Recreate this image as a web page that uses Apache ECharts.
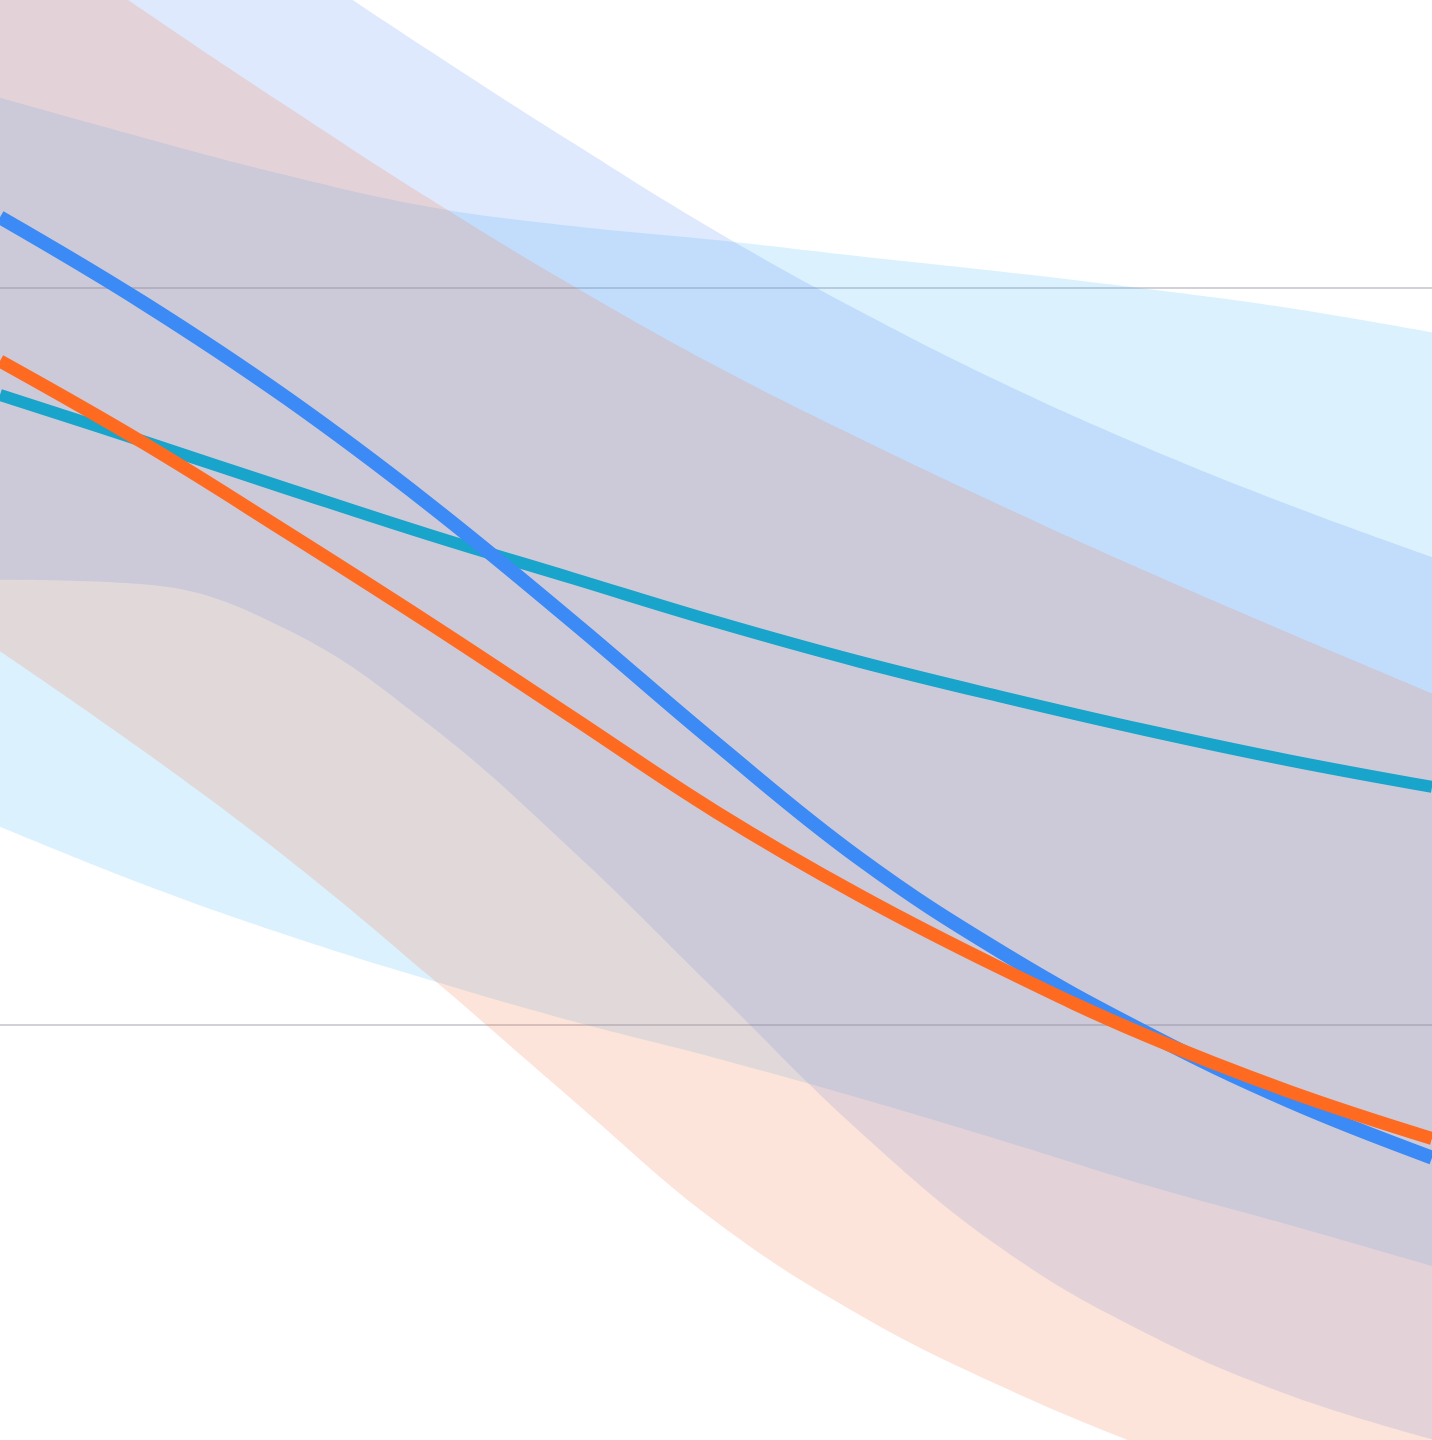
<!DOCTYPE html>
<html>
<head>
<meta charset="utf-8">
<title>Bands</title>
<script src="https://cdn.jsdelivr.net/npm/echarts@6/dist/echarts.min.js"></script>
<style>
  html, body { margin: 0; padding: 0; width: 1432px; height: 1440px; overflow: hidden; background: #fff; }
  #chart { position: absolute; left: 0; top: -449px; width: 1432px; height: 2211px; }
</style>
</head>
<body>
<div id="chart"></div>
<script>
// x positions (0..10 across the view)
const xs = ['0', '1', '2', '3', '4', '5', '6', '7', '8', '9', '10'];

// central lines
const blueLine   = [20.96, 19.80, 18.51, 17.06, 15.47, 13.82, 12.26, 10.98, 9.90, 8.97, 8.20];
const orangeLine = [19.01, 17.90, 16.69, 15.45, 14.17, 12.89, 11.76, 10.76, 9.86, 9.10, 8.46];
const tealLine   = [18.55, 17.92, 17.28, 16.65, 16.06, 15.47, 14.93, 14.45, 14.00, 13.59, 13.23];

// band edges
const blueUpper   = [27.23, 25.88, 24.52, 23.22, 21.97, 20.77, 19.69, 18.71, 17.84, 17.06, 16.35];
const blueLower   = [16.04, 15.98, 15.37, 14.07, 12.36, 10.46, 8.56, 6.96, 5.82, 4.98, 4.38];
const orangeUpper = [25.13, 23.77, 22.47, 21.21, 20.03, 18.94, 17.96, 17.04, 16.16, 15.32, 14.50];
const orangeLower = [15.07, 13.72, 12.27, 10.66, 8.98, 7.33, 6.07, 5.09, 4.27, 3.53, 2.84];
const tealUpper   = [22.58, 22.04, 21.53, 21.10, 20.84, 20.65, 20.43, 20.22, 19.99, 19.73, 19.40];
const tealLower   = [12.69, 11.91, 11.22, 10.61, 10.05, 9.55, 9.01, 8.43, 7.83, 7.29, 6.73];

// a band = invisible lower line + stacked difference filled
const band = (name, lower, upper, fill) => [
  {
    name: name + ' low', type: 'line', stack: name, data: lower,
    smooth: 0.4, symbol: 'none', lineStyle: { opacity: 0 }, silent: true
  },
  {
    name: name, type: 'line', stack: name,
    data: upper.map((v, i) => +(v - lower[i]).toFixed(2)),
    smooth: 0.4, symbol: 'none', lineStyle: { opacity: 0 },
    areaStyle: { color: fill, opacity: 1 }, silent: true
  }
];

const line = (name, values, color, width) => ({
  name: name, type: 'line', data: values, smooth: 0.4, symbol: 'none',
  lineStyle: { color: color, width: width, cap: 'butt' }
});

const chart = echarts.init(document.getElementById('chart'));
chart.setOption({
  animation: false,
  grid: { left: 0, right: 0, top: 0, bottom: 0 },
  xAxis: {
    type: 'category', data: xs, boundaryGap: false,
    axisLine: { show: false }, axisTick: { show: false }, axisLabel: { show: false },
    splitLine: { show: false }
  },
  yAxis: {
    type: 'value', min: 0, max: 30, interval: 10,
    axisLine: { show: false }, axisTick: { show: false }, axisLabel: { show: false },
    splitLine: { lineStyle: { color: '#c2c2ca', width: 1.5 } }
  },
  series: [
    ...band('teal', tealLower, tealUpper, 'rgba(70,180,250,0.19)'),
    ...band('blue', blueLower, blueUpper, 'rgba(85,140,245,0.19)'),
    ...band('orange', orangeLower, orangeUpper, 'rgba(245,110,60,0.19)'),
    line('teal line', tealLine, '#18a4cb', 12),
    line('blue line', blueLine, '#3b8af6', 14),
    line('orange line', orangeLine, '#ff6a21', 13)
  ]
});

window.addEventListener('resize', () => chart.resize());
</script>
</body>
</html>
